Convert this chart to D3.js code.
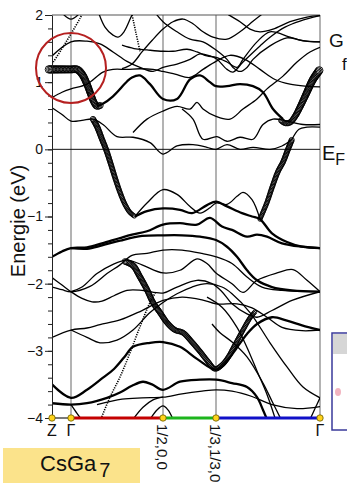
<!DOCTYPE html>
<html>
<head>
<meta charset="utf-8">
<script src="https://cdn.jsdelivr.net/npm/d3@7"></script>
<style>
  body { margin: 0; background: #fff; }
  svg { display: block; font-family: "Liberation Sans", Arial, sans-serif; }
</style>
</head>
<body>
<svg id="chart" width="347" height="489"></svg>
<script>
// high-symmetry points along the path (path length units)
const kPoints = [0, 0.19, 1.11, 1.64, 2.68];
const kLabels = ['Z', 'Γ', '1/2,0,0', '1/3,1/3,0', 'Γ'];
const yTicks = [-4, -3, -2, -1, 0, 1, 2];

// bands as [k, E(eV)] pairs
const thinBands = [
  // above E_F
  [[0.06, 2.1], [0.19, 1.94], [0.32, 2.1]],
  [[0, 1.39], [0.19, 1.6], [0.35, 1.61], [0.48, 1.57], [0.61, 1.45], [0.75, 1.31], [0.88, 1.22], [1.01, 1.16], [1.11, 1.22], [1.25, 1.27], [1.38, 1.34], [1.48, 1.42], [1.58, 1.39], [1.65, 1.34], [1.75, 1.19], [1.81, 1.15], [1.91, 1.3], [2.08, 1.54], [2.18, 1.67], [2.33, 1.82], [2.48, 1.91], [2.68, 1.99]],
  [[0, 0.77], [0.1, 0.85], [0.19, 0.9], [0.35, 0.97], [0.51, 1.15], [0.61, 1.19], [0.75, 1.19], [0.88, 1.2], [1.01, 1.19], [1.11, 1.16], [1.23, 1.12], [1.38, 1.07], [1.51, 1.19], [1.64, 1.31], [1.78, 1.4], [1.93, 1.34], [2.08, 1.19], [2.23, 1.04], [2.38, 0.97], [2.53, 0.94], [2.68, 0.93]],
  [[0.45, 2.1], [0.53, 1.82], [0.61, 1.7], [0.66, 1.67], [0.72, 1.75], [0.8, 2.0], [0.84, 2.1]],
  [[0.7, 1.55], [0.82, 1.5], [0.95, 1.48], [1.11, 1.46], [1.21, 1.46], [1.35, 1.49], [1.45, 1.45], [1.55, 1.39], [1.64, 1.37], [1.75, 1.3], [1.85, 1.22], [1.91, 1.34], [2.05, 1.6], [2.18, 1.75], [2.38, 1.67], [2.53, 1.61], [2.68, 1.6]],
  [[0.7, 1.2], [0.8, 1.27], [0.9, 1.45], [1.0, 1.62], [1.11, 1.79], [1.21, 1.9], [1.31, 1.94], [1.41, 1.87], [1.51, 1.75], [1.61, 1.67], [1.75, 1.64], [1.88, 1.75], [1.98, 1.87], [2.08, 1.99], [2.2, 2.1]],
  [[1.72, 2.05], [1.78, 1.99], [1.88, 1.9], [1.98, 1.79], [2.08, 1.75], [2.21, 1.79], [2.38, 1.9], [2.55, 1.97], [2.68, 1.99]],
  [[1.0, 2.1], [1.11, 1.9], [1.25, 1.75], [1.38, 1.64], [1.51, 1.6], [1.63, 1.49], [1.75, 1.34], [1.81, 1.22], [1.88, 1.16], [1.95, 1.22], [2.01, 1.34], [2.18, 1.54], [2.35, 1.66], [2.5, 1.62], [2.68, 1.6]],
  [[0.81, 0.25], [0.95, 0.45], [1.11, 0.57], [1.25, 0.64], [1.38, 0.6], [1.45, 0.7], [1.51, 0.6], [1.64, 0.49], [1.78, 0.45], [1.91, 0.6], [2.05, 0.75], [2.15, 0.9], [2.31, 1.09], [2.45, 1.3], [2.58, 1.45], [2.68, 1.52]],
  [[0, 0.62], [0.1, 0.52], [0.19, 0.42], [0.3, 0.43], [0.41, 0.45], [0.51, 0.37], [0.65, 0.19], [0.81, 0.18], [0.98, 0.1], [1.11, -0.07], [1.25, 0.05], [1.41, 0.07], [1.55, 0.03], [1.64, 0.0], [1.75, 0.07], [1.88, 0.0], [2.01, 0.03], [2.18, 0.0], [2.3, 0.05], [2.4, 0.15]],
  [[1.3, 0.6], [1.41, 0.45], [1.51, 0.15], [1.65, 0.19], [1.75, 0.12], [1.88, 0.18], [2.01, 0.15], [2.11, 0.37], [2.21, 0.45], [2.35, 0.42], [2.51, 0.37], [2.68, 0.37]],
  [[2.4, 0.15], [2.47, 0.3], [2.55, 0.33], [2.68, 0.33]],
  // below E_F
  [[0.83, -1.0], [0.95, -0.8], [1.11, -0.6], [1.25, -0.67], [1.38, -0.85], [1.48, -0.95], [1.58, -0.87], [1.64, -0.8], [1.75, -0.82], [1.85, -0.7], [1.91, -0.64], [2.0, -0.75], [2.08, -1.04]],
  [[0.19, -2.12], [0.3, -2.05], [0.45, -1.85], [0.6, -1.72], [0.75, -1.65], [0.9, -1.72], [1.11, -1.84], [1.28, -1.8], [1.45, -1.63], [1.55, -1.7], [1.64, -1.84], [1.8, -2.0], [1.91, -2.13], [2.05, -1.95], [2.25, -1.84], [2.41, -1.79], [2.55, -1.95], [2.68, -2.12]],
  [[0, -1.91], [0.1, -2.02], [0.19, -2.12], [0.3, -2.22], [0.4, -2.27], [0.5, -2.26], [0.62, -2.18], [0.75, -2.1], [0.9, -2.1], [1.11, -2.14], [1.25, -2.05], [1.45, -1.95], [1.6, -2.0], [1.7, -2.12], [1.8, -2.3], [1.95, -2.45], [2.05, -2.5], [2.2, -2.4], [2.4, -2.25], [2.68, -2.12]],
  [[0, -2.05], [0.1, -2.09], [0.19, -2.12], [0.38, -2.04], [0.55, -1.85], [0.68, -1.72], [0.8, -1.58], [0.95, -1.55], [1.11, -1.5], [1.3, -1.5], [1.5, -1.55], [1.64, -1.6], [1.8, -1.7], [1.95, -1.9], [2.1, -2.05], [2.3, -2.1], [2.68, -2.12]],
  [[0, -2.8], [0.19, -2.69], [0.35, -2.66], [0.48, -2.61], [0.68, -2.54], [0.9, -2.4], [1.11, -2.25], [1.3, -2.2], [1.5, -2.24], [1.64, -2.3], [1.85, -2.3], [2.0, -2.36], [2.15, -2.5], [2.3, -2.65], [2.5, -2.7], [2.68, -2.69]],
  [[0.19, -2.69], [0.35, -2.8], [0.48, -2.88], [0.65, -2.84], [0.81, -2.69], [0.98, -2.43], [1.11, -2.28], [1.25, -2.15], [1.4, -2.05], [1.55, -2.0], [1.7, -2.05], [1.8, -2.15], [1.98, -2.43], [2.18, -2.88], [2.35, -3.24], [2.51, -3.54], [2.68, -3.7]],
  [[1.55, -2.2], [1.7, -2.35], [1.85, -2.65], [1.95, -2.95], [2.05, -3.3], [2.15, -3.65], [2.23, -4.0]],
  [[1.6, -2.6], [1.68, -2.73], [1.81, -2.88], [1.95, -3.09], [2.11, -3.48], [2.2, -3.75], [2.3, -4.05]],
  [[0.45, -3.8], [0.7, -3.72], [0.9, -3.7], [1.11, -3.69], [1.3, -3.64], [1.5, -3.6], [1.64, -3.58], [1.8, -3.6], [2.0, -3.68], [2.2, -3.8], [2.45, -3.86], [2.68, -3.83]],
  [[0.98, -4.02], [1.05, -3.88], [1.11, -3.82], [1.16, -3.88], [1.21, -4.02]],
  [[0.81, -4.02], [0.91, -3.84], [1.01, -3.73], [1.11, -3.69]],
  [[0.19, -3.8], [0.25, -3.93], [0.31, -4.05]],
  [[2.58, -4.02], [2.63, -3.86], [2.68, -3.7]]
];

const thickBands = [
  [[0.45, 0.64], [0.5, 0.67], [0.61, 0.79], [0.75, 1.01], [0.8, 1.07], [0.88, 1.1], [0.98, 0.97], [1.11, 0.75], [1.25, 0.75], [1.38, 1.04], [1.48, 1.1], [1.58, 1.0], [1.64, 0.94], [1.75, 0.94], [1.88, 0.97], [2.01, 0.94], [2.11, 0.85], [2.21, 0.6], [2.31, 0.45]],
  [[0.83, -1.0], [0.95, -0.92], [1.11, -0.88], [1.28, -0.9], [1.4, -0.95], [1.55, -0.83], [1.64, -0.78], [1.75, -0.85], [1.9, -0.95], [2.0, -1.0], [2.08, -1.04], [2.2, -1.25], [2.35, -1.38], [2.5, -1.45], [2.68, -1.47]],
  [[0, -1.6], [0.1, -1.52], [0.19, -1.47], [0.35, -1.46], [0.5, -1.4], [0.68, -1.32], [0.8, -1.27], [0.95, -1.22], [1.11, -1.12], [1.28, -1.1], [1.45, -1.12], [1.58, -1.02], [1.7, -1.15], [1.8, -1.2], [1.95, -1.3], [2.05, -1.27], [2.15, -1.3], [2.3, -1.4], [2.5, -1.45], [2.68, -1.47]],
  [[0.19, -1.47], [0.35, -1.48], [0.5, -1.43], [0.68, -1.36], [0.9, -1.29], [1.11, -1.28], [1.3, -1.28], [1.48, -1.3], [1.64, -1.35], [1.75, -1.45], [1.85, -1.6], [1.95, -1.8], [2.05, -1.95], [2.2, -2.05], [2.4, -2.1], [2.68, -2.12]],
  [[0, -3.5], [0.19, -3.7], [0.35, -3.58], [0.51, -3.4], [0.62, -3.27], [0.72, -3.1], [0.81, -2.94], [0.98, -2.88], [1.11, -2.87], [1.28, -2.94], [1.45, -3.12], [1.64, -3.28], [1.75, -3.15], [1.85, -2.95], [1.95, -2.75], [2.05, -2.6], [2.2, -2.5], [2.35, -2.55], [2.5, -2.62], [2.68, -2.69]],
  [[0, -3.78], [0.19, -3.8], [0.35, -3.78], [0.55, -3.7], [0.68, -3.62], [0.8, -3.52], [0.91, -3.46], [1.0, -3.5], [1.11, -3.58], [1.28, -3.46], [1.48, -3.43], [1.64, -3.43], [1.8, -3.48], [1.95, -3.54], [2.05, -3.69], [2.11, -3.88], [2.15, -4.02]]
];

const dottedBands = [
  [[0, 1.27], [0.1, 1.5], [0.19, 1.72], [0.28, 1.95], [0.33, 2.1]],
  [[0.78, 2.1], [0.8, 2.0], [0.84, 1.73], [0.88, 1.46]],
  [[0.48, -4.05], [0.58, -3.69], [0.68, -3.39], [0.78, -3.03], [0.88, -2.64], [0.98, -2.28], [1.04, -2.12]]
];

// fat bands: points, and orbital weight at start / end
const fatBands = [
  [[-0.03, 1.19], [0.1, 1.19], [0.19, 1.19], [0.25, 1.19], [0.3, 1.12], [0.35, 0.97], [0.39, 0.81], [0.42, 0.7], [0.45, 0.64], [0.49, 0.66]],
  [[0.41, 0.45], [0.45, 0.34], [0.5, 0.15], [0.54, 0.0], [0.58, -0.18], [0.63, -0.42], [0.68, -0.64], [0.73, -0.82], [0.78, -0.94], [0.83, -1.0]],
  [[2.29, 0.43], [2.33, 0.39], [2.38, 0.4], [2.43, 0.49], [2.48, 0.63], [2.54, 0.82], [2.61, 1.04], [2.68, 1.19]],
  [[2.08, -1.04], [2.1, -0.97], [2.15, -0.79], [2.2, -0.57], [2.26, -0.33], [2.31, -0.19], [2.36, 0.0], [2.4, 0.15]],
  [[0.73, -1.67], [0.81, -1.73], [0.88, -1.9], [0.95, -2.09], [1.01, -2.28], [1.08, -2.43], [1.15, -2.58], [1.23, -2.69], [1.31, -2.73], [1.4, -2.87], [1.48, -3.01], [1.56, -3.16], [1.63, -3.27], [1.7, -3.21], [1.76, -3.1], [1.83, -2.91], [1.91, -2.69], [1.98, -2.51], [2.03, -2.42]]
];
const fatWeight = [[1.0, 0.8], [0.72, 0.55], [0.65, 1.0], [0.55, 0.68], [0.75, 0.55]];

const pathColors = ['#c40000', '#1cb51c', '#1010c8'];

const svg = d3.select('#chart');
const W = 347, H = 489;
svg.append('rect').attr('width', W).attr('height', H).attr('fill', '#fff');

const x = d3.scaleLinear([0, 2.68], [52, 320]);
const y = d3.scaleLinear([-4, 2], [418, 15]);
const rScale = d3.scaleLinear([0, 1], [0, 3.8]);

svg.append('defs').append('clipPath').attr('id', 'plot')
  .append('rect').attr('x', 52).attr('y', 15).attr('width', 268).attr('height', 403);

// vertical lines at symmetry points + frame
svg.append('g').selectAll('line').data(kPoints.slice(1)).join('line')
  .attr('x1', d => x(d)).attr('x2', d => x(d))
  .attr('y1', y(2)).attr('y2', y(-4))
  .attr('stroke', '#808080').attr('stroke-width', 1.2);

svg.append('line').attr('x1', x(0)).attr('x2', x(2.68)).attr('y1', y(2)).attr('y2', y(2))
  .attr('stroke', '#555').attr('stroke-width', 1.2);
svg.append('line').attr('x1', x(0)).attr('x2', x(2.68)).attr('y1', y(0)).attr('y2', y(0))
  .attr('stroke', '#111').attr('stroke-width', 1);

const line = d3.line().x(d => x(d[0])).y(d => y(d[1])).curve(d3.curveCatmullRom.alpha(0.5));
const plot = svg.append('g').attr('clip-path', 'url(#plot)');

plot.append('g').selectAll('path').data(thinBands).join('path')
  .attr('d', line).attr('fill', 'none').attr('stroke', '#000').attr('stroke-width', 1.3);
plot.append('g').selectAll('path').data(thickBands).join('path')
  .attr('d', line).attr('fill', 'none').attr('stroke', '#000').attr('stroke-width', 2.3);
plot.append('g').selectAll('path').data(dottedBands).join('path')
  .attr('d', line).attr('fill', 'none').attr('stroke', '#000').attr('stroke-width', 1.6)
  .attr('stroke-dasharray', '1.2,1.2');

// fat bands: rings sampled along the curve (drawn unclipped, as in the original)
const fatG = svg.append('g');
fatBands.forEach((band, i) => {
  const p = fatG.append('path').attr('d', line(band)).attr('fill', 'none').attr('stroke', 'none');
  const node = p.node();
  const L = node.getTotalLength();
  const w = d3.scaleLinear([0, L], fatWeight[i]);
  const pts = d3.range(0, L, 1.4).map(l => {
    const pt = node.getPointAtLength(l);
    return { x: pt.x, y: pt.y, r: rScale(w(l)) };
  });
  fatG.append('g').selectAll('circle').data(pts).join('circle')
    .attr('cx', d => d.x).attr('cy', d => d.y).attr('r', d => d.r)
    .attr('fill', 'none').attr('stroke', '#000').attr('stroke-width', 0.9);
});

// y axis with minor and major ticks
svg.append('g').attr('transform', `translate(${x(0)},0)`)
  .call(d3.axisLeft(y).tickValues(d3.range(-20, 11).map(d => d / 5)).tickSize(4).tickSizeOuter(0).tickFormat(''))
  .call(g => g.selectAll('line').attr('stroke', '#222'))
  .call(g => g.select('.domain').attr('stroke', '#222'));
svg.append('g').attr('transform', `translate(${x(0)},0)`)
  .call(d3.axisLeft(y).tickValues(yTicks).tickSize(7).tickSizeOuter(0).tickPadding(2).tickFormat(d3.format('d')))
  .call(g => g.select('.domain').remove())
  .call(g => g.selectAll('line').attr('stroke', '#222'))
  .call(g => g.selectAll('text').attr('font-size', 14).attr('fill', '#111')
    .attr('font-family', '"Liberation Sans", Arial, sans-serif'));

svg.append('text').attr('transform', `translate(25,221) rotate(-90)`)
  .attr('text-anchor', 'middle').attr('font-size', 20).attr('fill', '#111')
  .text('Energie (eV)');

// bottom path
svg.append('line').attr('x1', x(kPoints[0])).attr('x2', x(kPoints[1]))
  .attr('y1', y(-4)).attr('y2', y(-4)).attr('stroke', '#222').attr('stroke-width', 1.2);
svg.append('g').selectAll('line').data(pathColors).join('line')
  .attr('x1', (d, i) => x(kPoints[i + 1])).attr('x2', (d, i) => x(kPoints[i + 2]))
  .attr('y1', y(-4)).attr('y2', y(-4))
  .attr('stroke', d => d).attr('stroke-width', 3);
svg.append('g').selectAll('circle').data(kPoints).join('circle')
  .attr('cx', d => x(d)).attr('cy', y(-4)).attr('r', 3.2)
  .attr('fill', '#ffd31a').attr('stroke', '#6a5a00').attr('stroke-width', 0.8);

// k labels
const labG = svg.append('g').attr('font-size', 16).attr('fill', '#111');
kLabels.forEach((t, i) => {
  if (t.length === 1) {
    labG.append('text').attr('x', x(kPoints[i])).attr('y', 436)
      .attr('text-anchor', 'middle').text(t);
  } else {
    labG.append('text')
      .attr('transform', `translate(${x(kPoints[i]) - 6},424) rotate(90)`)
      .attr('font-size', 15).text(t);
  }
});

// annotation circle
svg.append('circle').attr('cx', 71).attr('cy', 68).attr('r', 35)
  .attr('fill', 'none').attr('stroke', '#b52020').attr('stroke-width', 2);

// right side labels
svg.append('text').attr('x', 329).attr('y', 47).attr('font-size', 19).attr('fill', '#111').text('G');
svg.append('text').attr('x', 342).attr('y', 70).attr('font-size', 17).attr('fill', '#111').text('f');
const ef = svg.append('text').attr('x', 322).attr('y', 160).attr('font-size', 20).attr('fill', '#111');
ef.append('tspan').text('E');
ef.append('tspan').attr('dy', 5).attr('font-size', 16).text('F');

// compound label box
svg.append('rect').attr('x', 3).attr('y', 448).attr('width', 137).attr('height', 35).attr('fill', '#fbe38b');
const lab = svg.append('text').attr('x', 40).attr('y', 471).attr('font-size', 22).attr('fill', '#111');
lab.append('tspan').text('CsGa');
lab.append('tspan').attr('dx', 3).attr('dy', 6).attr('font-size', 20).text('7');

// clipped legend window at right
svg.append('rect').attr('x', 332).attr('y', 333).attr('width', 20).attr('height', 97)
  .attr('fill', '#fff').attr('stroke', '#3a3a9a').attr('stroke-width', 1.5);
svg.append('rect').attr('x', 333).attr('y', 334).attr('width', 19).attr('height', 20).attr('fill', '#d6d6d6');
svg.append('ellipse').attr('cx', 338).attr('cy', 392).attr('rx', 3).attr('ry', 4).attr('fill', '#f2b4c0');
</script>
</body>
</html>
